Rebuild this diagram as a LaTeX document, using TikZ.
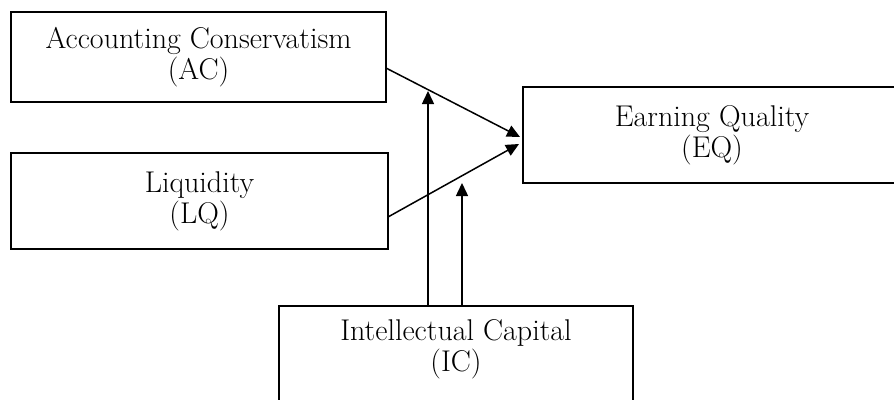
\documentclass[tikz,border=0pt]{standalone}
\usetikzlibrary{arrows.meta}
\begin{document}
\begin{tikzpicture}[x=1pt,y=-1pt,
  box/.style={draw, line width=1.7pt, align=center, inner sep=0pt, outer sep=0pt,
    font=\fontsize{30}{31}\selectfont},
  arr/.style={line width=1.5pt, -{Triangle[length=13pt,width=12pt]}}]
\useasboundingbox (0,0) rectangle (894,399);
\clip (0,0) rectangle (894,399);
\node[box, minimum width=375pt, minimum height=90pt] (AC) at (198.5,57) {Accounting Conservatism\\(AC)};
\node[box, minimum width=377pt, minimum height=96pt] (LQ) at (199.5,201) {Liquidity\\(LQ)};
\node[box, minimum width=378pt, minimum height=96pt] (EQ) at (712,135) {Earning Quality\\(EQ)};
\node[box, minimum width=354pt, minimum height=100pt] (IC) at (456,356) {Intellectual Capital\\(IC)\rule[-20pt]{0pt}{0pt}};
\coordinate (t1) at (428,91);
\coordinate (t2) at (462,183);
\draw[arr] ([yshift=-11pt]AC.east) -- ([xshift=-3pt,yshift=-2pt]EQ.west);
\draw[arr] ([yshift=-16pt]LQ.east) -- ([xshift=-4pt,yshift=-9pt]EQ.west);
\draw[arr] (IC.north -| t1) -- (t1);
\draw[arr] (IC.north -| t2) -- (t2);
\end{tikzpicture}
\end{document}
